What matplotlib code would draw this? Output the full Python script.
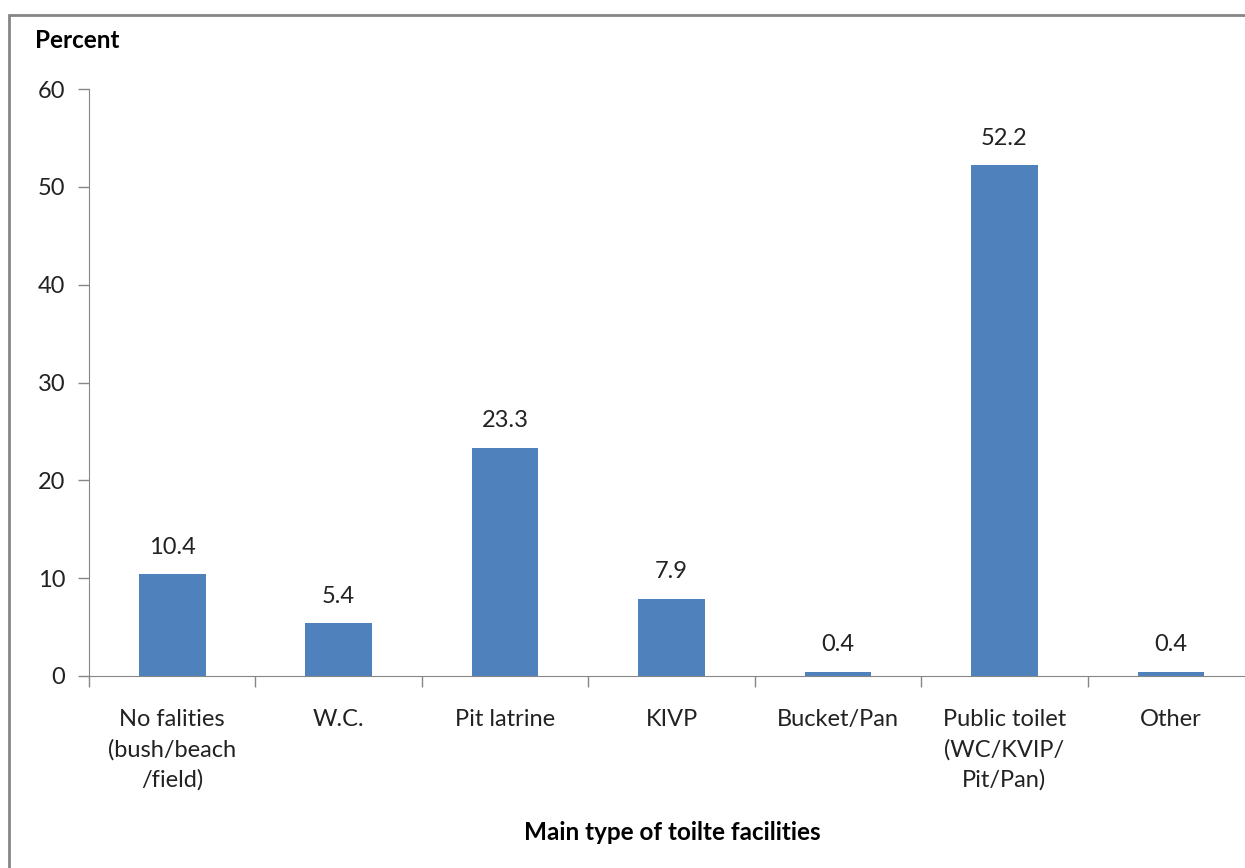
import numpy as np
import matplotlib.pyplot as plt
from matplotlib.patches import Rectangle

categories = ['No falities\n(bush/beach\n/field)', 'W.C.', 'Pit latrine', 'KIVP',
              'Bucket/Pan', 'Public toilet\n(WC/KVIP/\nPit/Pan)', 'Other']
values = [10.4, 5.4, 23.3, 7.9, 0.4, 52.2, 0.4]
y_ticks = [0, 10, 20, 30, 40, 50, 60]

plt.rcParams['font.family'] = ['Lato', 'DejaVu Sans']

fig = plt.figure(figsize=(12.45, 8.68), dpi=100)
ax = fig.add_axes([89 / 1245, 192 / 868, 1165 / 1245, 587 / 868])

x = np.arange(len(categories))
ax.bar(x, values, width=0.4, color='#4F81BD')

for xi, v in zip(x, values):
    ax.text(xi, v + 1.7, f'{v:.1f}', ha='center', va='bottom', fontsize=17, color='#222222')

ax.set_xlim(-0.5, len(categories) - 0.5)
ax.set_ylim(0, 60)
ax.set_yticks(y_ticks)
ax.set_xticks(x)
ax.set_xticklabels(categories, fontsize=17, linespacing=1.48, color='#222222')
ax.set_xticks(np.arange(len(categories)) - 0.5, minor=True)
ax.tick_params(axis='x', which='major', length=0, pad=24)
ax.tick_params(axis='x', which='minor', length=8, color='#868686', width=1)
ax.tick_params(axis='y', length=8, color='#868686', width=1, labelsize=17,
               labelcolor='#222222', pad=9)

for s in ['top', 'right']:
    ax.spines[s].set_visible(False)
for s in ['left', 'bottom']:
    ax.spines[s].set_color('#868686')

fig.text(35 / 1245, 1 - 41 / 868, 'Percent', fontsize=17.5, fontweight='bold', va='center')
fig.text(672 / 1245, 1 - 833 / 868, 'Main type of toilte facilities', fontsize=17.5,
         fontweight='bold', ha='center', va='center')

# outer chart border
fig.patches.append(Rectangle((9 / 1245, -0.05), 1.1, 1 - 15 / 868 + 0.05,
                             transform=fig.transFigure, fill=False,
                             edgecolor='#868686', linewidth=2))

fig.savefig('out.png', dpi=100)
